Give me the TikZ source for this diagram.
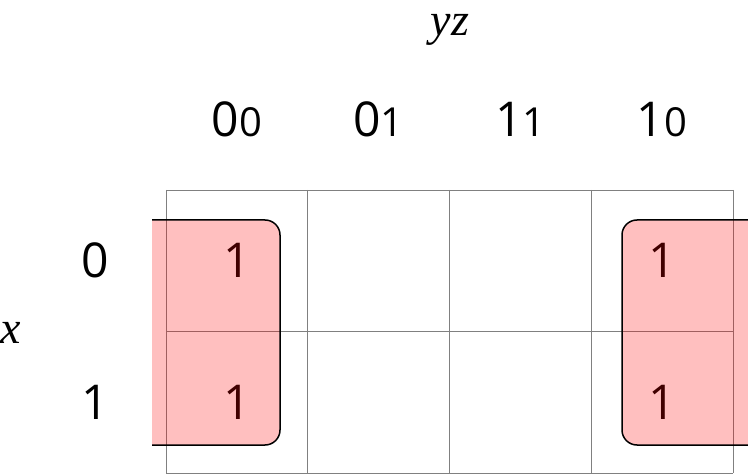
\documentclass[tikz,border=0pt]{standalone}
\usepackage{fontspec}
\setmainfont{Open Sans}
\newfontfamily\varfont{Liberation Serif}
\usetikzlibrary{positioning}

\tikzset{
    cellgrid/.style={draw=gray, line width=0.8pt},
    digit/.style={font=\fontsize{48}{48}\selectfont, inner sep=0pt},
    varlabel/.style={font=\varfont\itshape\fontsize{46}{46}\selectfont, inner sep=0pt},
    implicant/.style={fill=red, fill opacity=.25, draw=black, line width=1.5pt, rounded corners=15pt},
}

\begin{document}
\begin{tikzpicture}[x=1pt, y=-1pt]
    \useasboundingbox (0,0) rectangle (748,476);
    \pgfmathsetmacro{\cw}{141.75}
    \pgfmathsetmacro{\ch}{141.5}
    % variable names
    \node[varlabel] (yz) at (450,30) {yz};
    \node[varlabel] (x) at (11,333) {x};
    % column headers
    \foreach \a/\b [count=\i] in {0/0,0/1,1/1,1/0}{
            \node[digit, anchor=base] (col\i) at (166+\cw*\i-\cw/2,137) {\a{\fontsize{40}{40}\selectfont\b}};
        }
    % row headers
    \foreach \r [count=\j] in {0,1}{
            \node[digit] (row\j) at (95,190+\ch*\j-\ch/2) {\r};
        }
    % grid
    \foreach \i in {0,...,4}{
            \draw[cellgrid] (166+\cw*\i,190) -- (166+\cw*\i,473);
        }
    \foreach \j in {0,1,2}{
            \draw[cellgrid] (166,190+\ch*\j) -- (733,190+\ch*\j);
        }
    % minterms
    \foreach \j in {1,2}{
            \node[digit] (cell\j1) at (166+\cw/2,190+\ch*\j-\ch/2) {1};
            \node[digit] (cell\j4) at (166+\cw*3.5,190+\ch*\j-\ch/2) {1};
        }
    % wrap-around group
    \filldraw[implicant] (152,220) -- (280,220) -- (280,445) -- (152,445);
    \filldraw[implicant] (760,220) -- (622,220) -- (622,445) -- (760,445);
\end{tikzpicture}
\end{document}
